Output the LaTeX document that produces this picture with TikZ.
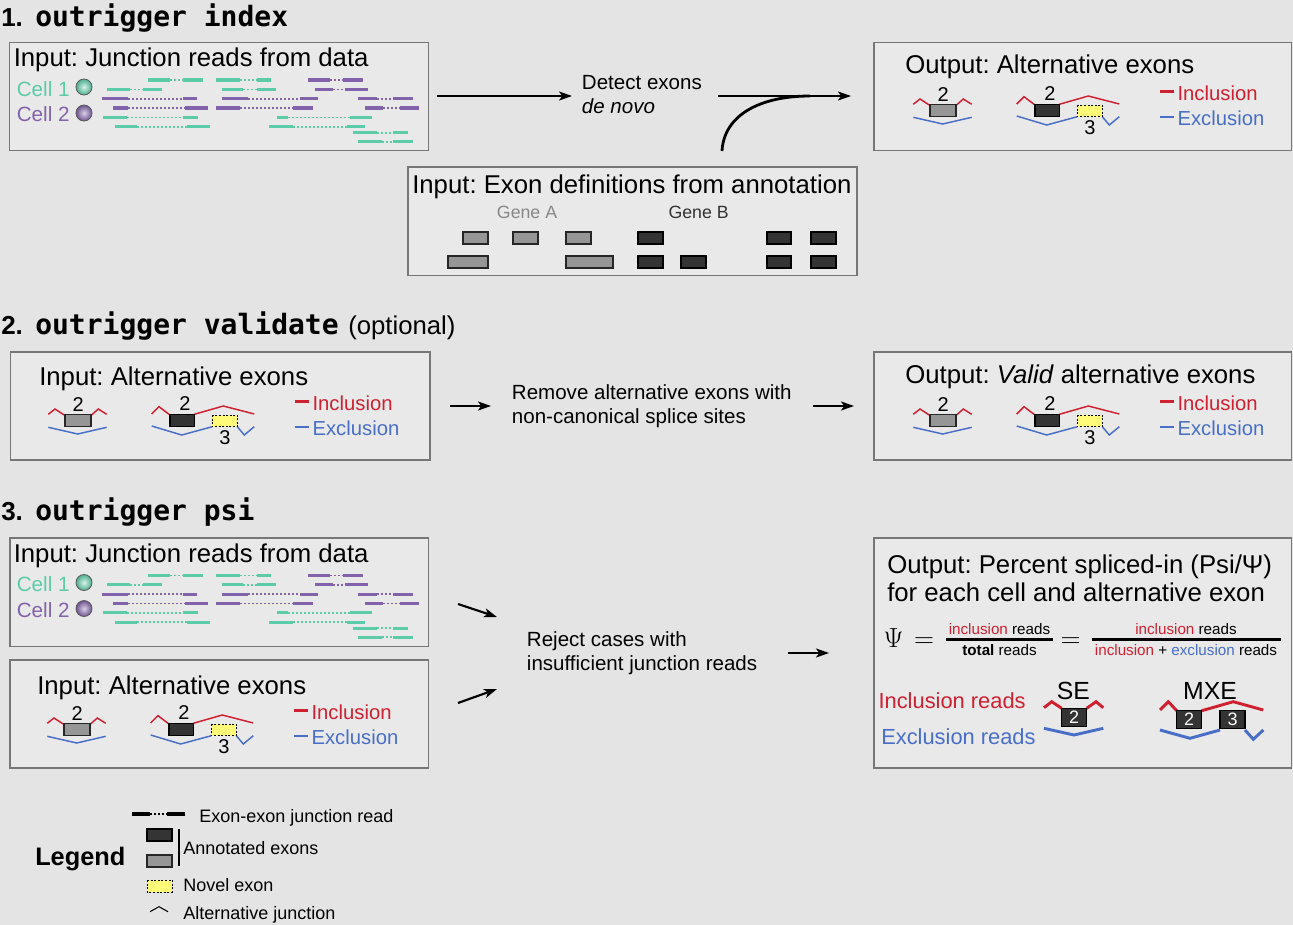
\documentclass[tikz,border=0pt]{standalone}
\usepackage{fontspec}
\setmainfont{Liberation Sans}
\newfontfamily\monofont{DejaVu Sans Mono}
\usetikzlibrary{arrows.meta,fit}
\definecolor{bg}{RGB}{228,228,228}
\definecolor{boxfill}{RGB}{233,233,233}
\definecolor{boxline}{RGB}{118,118,118}
\definecolor{tealc}{RGB}{92,204,168}
\definecolor{purp}{RGB}{130,98,170}
\definecolor{incl}{RGB}{206,32,48}
\definecolor{excl}{RGB}{72,110,200}
\definecolor{exgray}{RGB}{150,150,150}
\definecolor{exdark}{RGB}{52,52,52}
\definecolor{novel}{RGB}{255,250,120}
\definecolor{geneA}{RGB}{135,135,135}
\definecolor{geneB}{RGB}{50,50,50}
\newcommand\setfs[1]{\fontsize{#1}{#1}\selectfont}
\tikzset{
  box/.style={draw=boxline, line width=1.1pt, fill=boxfill, inner sep=0pt},
  txt/.style={inner sep=0pt, anchor=base west},
  ctxt/.style={inner sep=0pt, anchor=base},
  arr/.style={line width=1.6pt, -{Stealth[length=9.75pt,width=6.75pt,inset=2.5pt]}},
  gex/.style={draw=black!85, line width=0.9pt, fill=exgray},
  dex/.style={draw=black, line width=0.9pt, fill=exdark},
  nex/.style={draw=black, line width=0.7pt, dash pattern=on 1.5pt off 1.2pt, fill=novel},
  injn/.style={incl, line width=1.1pt},
  exjn/.style={excl, line width=1.1pt},
  injnb/.style={incl, line width=2.2pt},
  exjnb/.style={excl, line width=2.2pt},
  rsolid/.style={line width=2.3pt},
  rdot/.style={line width=1.2pt, dash pattern=on 1.5pt off 1.5pt},
  dig/.style={inner sep=0pt, font=\setfs{15}},
  ball/.style={circle, minimum size=12pt, inner sep=0pt, draw=black!65, line width=0.6pt, shading=radial},
}
\newcommand\jread[6]{%
  \draw[#1,rsolid] (#3,#2) -- (#4,#2);
  \draw[#1,rdot] (#4,#2) -- (#5,#2);
  \draw[#1,rsolid] (#5,#2) -- (#6,#2);}
\newcommand\readsblock[1]{%
  \node[txt, font=\setfs{19.3}] (#1t) at (13.5,66.7) {Input: Junction reads from data};
  \node[txt, text=tealc, font=\setfs{15.5}] (#1c1) at (16.5,96) {Cell 1};
  \node[txt, text=purp, font=\setfs{15.5}] (#1c2) at (16.5,121.5) {Cell 2};
  \node[ball, inner color=tealc!25!white, outer color=tealc!85!black] (#1b1) at (84,87) {};
  \node[ball, inner color=purp!30!white, outer color=purp!85!black] (#1b2) at (84,113) {};
  \jread{tealc}{80}{148.3}{170}{183.3}{203.3}
  \jread{tealc}{80}{216}{240}{256.7}{270.7}
  \jread{purp}{80}{308.3}{330}{343.3}{362.7}
  \jread{tealc}{89.3}{106.7}{130}{143.3}{161.7}
  \jread{tealc}{89.3}{221.7}{243}{256.7}{276}
  \jread{purp}{89.3}{315}{333.3}{345}{368.3}
  \jread{purp}{98.7}{101.7}{128.3}{183.3}{196.7}
  \jread{purp}{98.7}{221.7}{248.3}{300}{318.3}
  \jread{purp}{98.7}{358.3}{376.7}{393.3}{413.3}
  \jread{purp}{108}{113.3}{128.3}{185}{208.3}
  \jread{purp}{108}{216}{240}{293.3}{313.3}
  \jread{purp}{108}{365}{383.3}{400}{419.3}
  \jread{tealc}{117.3}{103.3}{126.7}{183.3}{198.3}
  \jread{tealc}{117.3}{276.7}{288.3}{350}{371.7}
  \jread{tealc}{126.7}{115}{136.7}{186.7}{210}
  \jread{tealc}{126.7}{269.3}{293.3}{346.7}{365}
  \jread{tealc}{132.7}{353.3}{376.7}{393.3}{408.3}
  \jread{tealc}{141.7}{358.3}{381.7}{393.3}{413.3}
}
\newcommand\altdiag[1]{%
  \draw[injn] (913.3,104.3) -- (920,99) -- (930,105.5);
  \draw[injn] (956,105.5) -- (963.3,99) -- (971.7,104.3);
  \draw[exjn] (913.3,117.3) -- (942.7,124) -- (971.7,117.3);
  \draw[gex] (930,104.3) rectangle (956,116.7);
  \node[dig] (#1a) at (943.3,95) {2};
  \draw[injn] (1016.7,104) -- (1024,96.7) -- (1035,105);
  \draw[injn] (1059.3,104.3) -- (1088.3,96) -- (1119.3,104);
  \draw[exjn] (1016.7,116) -- (1046.7,125) -- (1077.3,116.7);
  \draw[exjn] (1102.3,116.7) -- (1109.3,125) -- (1119.3,116.7);
  \draw[dex] (1035,104.3) rectangle (1059.3,116.7);
  \draw[nex] (1077.3,105) rectangle (1102.3,116.7);
  \node[dig] (#1b) at (1050,93.3) {2};
  \node[dig] (#1c) at (1090,127.8) {3};
  \draw[incl, line width=1.6pt] (1160,91.5) -- (1174,91.5);
  \node[txt, text=incl, font=\setfs{15.2}] (#1i) at (1177.3,100) {Inclusion};
  \draw[excl, line width=1.6pt] (1160,116.7) -- (1174,116.7);
  \node[txt, text=excl, font=\setfs{15.2}] (#1e) at (1177.3,125.3) {Exclusion};
}
\begin{document}
\frenchspacing
\begin{tikzpicture}[x=0.75pt, y=-0.75pt]
\useasboundingbox (0,0) rectangle (1293,925);
\fill[bg] (0,0) rectangle (1293,925);

% ---------- titles ----------
\node[txt, font=\setfs{19.5}\bfseries] (t1n) at (1,26) {1.};
\node[txt, font=\monofont\setfs{21}\bfseries] (t1) at (35,26) {outrigger index};
\node[txt, font=\setfs{19.5}\bfseries] (t2n) at (1,334) {2.};
\node[txt, font=\monofont\setfs{21}\bfseries] (t2) at (35,334) {outrigger validate};
\node[txt, font=\setfs{19.3}] (t2o) at (348,334) {(optional)};
\node[txt, font=\setfs{19.5}\bfseries] (t3n) at (1,520) {3.};
\node[txt, font=\monofont\setfs{21}\bfseries] (t3) at (35,520) {outrigger psi};

% ---------- boxes ----------
\node[box, fit={(9.5,42.5) (428.5,150.5)}] (in1) {};
\node[box, fit={(874,42.5) (1291.5,150.5)}] (out1) {};
\node[box, fit={(408,167) (857,275.5)}] (ann) {};
\node[box, fit={(10.5,352) (430,460)}] (in2) {};
\node[box, fit={(874,352) (1291.5,460)}] (out2) {};
\node[box, fit={(10,538) (428.5,646.5)}] (in3a) {};
\node[box, fit={(10,660) (428.5,768)}] (in3b) {};
\node[box, fit={(874,538) (1291.5,768)}] (out3) {};

% ---------- section 1 ----------
\readsblock{r1}
\node[txt, font=\setfs{19.3}] (o1t) at (905,73.3) {Output: Alternative exons};
\altdiag{o1}
\node[txt, font=\setfs{15.4}] (d1) at (581.7,89.3) {Detect exons};
\node[txt, font=\setfs{15.4}\itshape] (d2) at (581.7,113.3) {de novo};
\coordinate (a1s) at (437,96);
\coordinate (a1e) at (572,96);
\coordinate (a2s) at (718,96);
\coordinate (a2e) at (851,96);
\coordinate (cs) at (722,151);
\coordinate (ce) at (810,96);
\draw[arr] (a1s) -- (a1e);
\draw[arr] (a2s) -- (a2e);
\draw[line width=2.1pt] (cs) .. controls (724,115) and (760,96) .. (ce);

\node[txt, font=\setfs{19.3}] (annt) at (412,193.3) {Input: Exon definitions from annotation};
\node[txt, text=geneA, font=\setfs{13.3}] (gA) at (496.7,218.3) {Gene A};
\node[txt, text=geneB, font=\setfs{13.3}] (gB) at (668.3,218.3) {Gene B};
\draw[gex] (463,232) rectangle (488,244);
\draw[gex] (513,232) rectangle (538,244);
\draw[gex] (566,232) rectangle (591,244);
\draw[dex] (638,232) rectangle (663,244);
\draw[dex] (767,232) rectangle (791,244);
\draw[dex] (811,232) rectangle (836,244);
\draw[gex] (448,256) rectangle (488,268);
\draw[gex] (566,256) rectangle (613,268);
\draw[dex] (638,256) rectangle (663,268);
\draw[dex] (681,256) rectangle (706,268);
\draw[dex] (767,256) rectangle (791,268);
\draw[dex] (811,256) rectangle (836,268);

% ---------- section 2 ----------
\node[txt, font=\setfs{19.3}] (i2t) at (39,385) {Input: Alternative exons};
\begin{scope}[shift={(-865,310)}]
  \altdiag{i2}
\end{scope}
\node[txt, font=\setfs{19.3}] (o2t) at (905,383.3) {Output: \textit{Valid} alternative exons};
\begin{scope}[shift={(0,310)}]
  \altdiag{o2}
\end{scope}
\node[txt, font=\setfs{15.4}] (v1) at (511.7,399.3) {Remove alternative exons with};
\node[txt, font=\setfs{15.4}] (v2) at (511.7,423.3) {non-canonical splice sites};
\coordinate (b1s) at (450,406);
\coordinate (b1e) at (491,406);
\coordinate (b2s) at (813,406);
\coordinate (b2e) at (854,406);
\draw[arr] (b1s) -- (b1e);
\draw[arr] (b2s) -- (b2e);

% ---------- section 3 ----------
\begin{scope}[shift={(0,495.5)}]
  \readsblock{r3}
\end{scope}
\node[txt, font=\setfs{19.3}] (i3t) at (37,694) {Input: Alternative exons};
\begin{scope}[shift={(-866,619)}]
  \altdiag{i3}
\end{scope}
\node[txt, font=\setfs{15.4}] (p1) at (526.7,646.7) {Reject cases with};
\node[txt, font=\setfs{15.4}] (p2) at (526.7,670.5) {insufficient junction reads};
\coordinate (c1s) at (458,604);
\coordinate (c1e) at (497,617);
\coordinate (c2s) at (458,703);
\coordinate (c2e) at (497,689);
\coordinate (c3s) at (788,653);
\coordinate (c3e) at (829,653);
\draw[arr] (c1s) -- (c1e);
\draw[arr] (c2s) -- (c2e);
\draw[arr] (c3s) -- (c3e);

\node[txt, font=\setfs{19.3}] (po1) at (887,573.3) {Output: Percent spliced-in (Psi/Ψ)};
\node[txt, font=\setfs{19.3}] (po2) at (887,601.7) {for each cell and alternative exon};
\node[ctxt, font=\setfs{19.5}] (psi) at (893.5,647.3) {$\Psi$};
\node[ctxt, font=\setfs{19.5}] (eq1) at (924,647) {$=$};
\draw[line width=1.8pt] (946,639.5) -- (1053,639.5);
\node[ctxt, font=\setfs{11.4}] (f1n) at (999.5,634) {\textcolor{incl}{inclusion} reads};
\node[ctxt, font=\setfs{11.4}] (f1d) at (999.5,655) {\textbf{total} reads};
\node[ctxt, font=\setfs{19.5}] (eq2) at (1070.5,647) {$=$};
\draw[line width=1.8pt] (1092,639.5) -- (1281,639.5);
\node[ctxt, font=\setfs{11.4}] (f2n) at (1186,634) {\textcolor{incl}{inclusion} reads};
\node[ctxt, font=\setfs{11.4}] (f2d) at (1186,655) {\textcolor{incl}{inclusion} + \textcolor{excl}{exclusion} reads};
\node[txt, text=incl, font=\setfs{16.4}] (ir) at (878.3,708.3) {Inclusion reads};
\node[txt, text=excl, font=\setfs{16.4}] (er) at (881,744) {Exclusion reads};
\node[ctxt, font=\setfs{18.6}] (se) at (1073.3,699.3) {SE};
\node[ctxt, font=\setfs{18.6}] (mxe) at (1210,699.3) {MXE};
\draw[injnb] (1044,707.7) -- (1051.7,701.7) -- (1061.7,708.3);
\draw[injnb] (1086.7,708.3) -- (1096,701.7) -- (1103.3,707.7);
\draw[exjnb] (1044,728.3) -- (1074,735) -- (1103.3,728.3);
\draw[dex] (1061.7,708.3) rectangle (1086.7,726.7);
\node[dig, text=white, font=\setfs{13.5}] (se2) at (1074.2,717.5) {2};
\draw[injnb] (1160,710) -- (1168.3,701.7) -- (1176.7,710.7);
\draw[injnb] (1201.7,710.7) -- (1233.3,701.7) -- (1263.3,710);
\draw[exjnb] (1160,730) -- (1190,738.3) -- (1220,730);
\draw[exjnb] (1245,730) -- (1253.3,739.3) -- (1263.3,730);
\draw[dex] (1176.7,710.7) rectangle (1201.7,728.3);
\draw[dex] (1220,710.7) rectangle (1245,728.3);
\node[dig, text=white, font=\setfs{13.5}] (mx2) at (1189.2,719.5) {2};
\node[dig, text=white, font=\setfs{13.5}] (mx3) at (1232.5,719.5) {3};

% ---------- legend ----------
\node[txt, font=\setfs{19}\bfseries] (leg) at (35,865) {Legend};
\jread{black}{814}{132}{150}{167}{185}
\node[txt, font=\setfs{13.5}] (l1) at (199,822.7) {Exon-exon junction read};
\draw[dex] (147,829) rectangle (172,841);
\draw[gex] (147,855) rectangle (172,867);
\draw[line width=0.9pt] (179,829) -- (179,866);
\node[txt, font=\setfs{13.5}] (l2) at (183,854.3) {Annotated exons};
\draw[nex] (147,880) rectangle (172,892);
\node[txt, font=\setfs{13.5}] (l3) at (183,891.7) {Novel exon};
\draw[line width=0.8pt] (150,911.7) -- (159,906.7) -- (168,911.7);
\node[txt, font=\setfs{13.5}] (l4) at (183,919.3) {Alternative junction};
\end{tikzpicture}
\end{document}
